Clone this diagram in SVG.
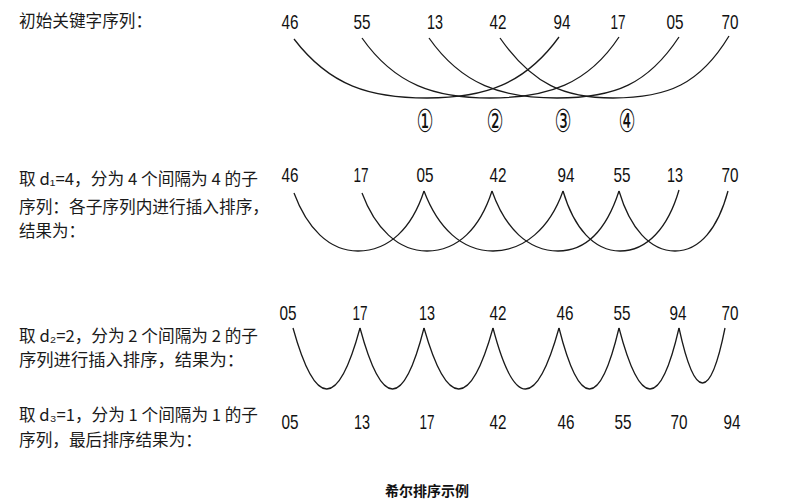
<svg xmlns="http://www.w3.org/2000/svg" width="795" height="502" viewBox="0 0 795 502">
<style>
.lbl{font-family:"Noto Sans CJK SC","Liberation Sans",sans-serif;font-size:16.5px;fill:#1a1a1a}
.num{font-family:"Liberation Sans",sans-serif;font-size:21px;fill:#111;text-anchor:middle}
.circ{font-family:"DejaVu Sans","Noto Sans CJK SC",sans-serif;font-size:32px;fill:#111;text-anchor:middle}
.cap{font-family:"Noto Sans CJK SC",sans-serif;font-size:14px;font-weight:bold;fill:#111;text-anchor:middle}
.ln{fill:none;stroke:#1a1a1a;stroke-width:1.3}
</style>
<rect width="795" height="502" fill="#ffffff"/>

<g id="labels">
  <text class="lbl" x="19" y="27" textLength="133" lengthAdjust="spacingAndGlyphs">初始关键字序列：</text>
  <text class="lbl" x="19" y="185" textLength="239" lengthAdjust="spacingAndGlyphs">取 d₁=4，分为 4 个间隔为 4 的子</text>
  <text class="lbl" x="19" y="213" textLength="250" lengthAdjust="spacingAndGlyphs">序列：各子序列内进行插入排序，</text>
  <text class="lbl" x="19" y="237" textLength="66" lengthAdjust="spacingAndGlyphs">结果为：</text>
  <text class="lbl" x="19" y="342" textLength="239" lengthAdjust="spacingAndGlyphs">取 d₂=2，分为 2 个间隔为 2 的子</text>
  <text class="lbl" x="19" y="366" textLength="225" lengthAdjust="spacingAndGlyphs">序列进行插入排序，结果为：</text>
  <text class="lbl" x="19" y="421" textLength="239" lengthAdjust="spacingAndGlyphs">取 d₃=1，分为 1 个间隔为 1 的子</text>
  <text class="lbl" x="19" y="446" textLength="183" lengthAdjust="spacingAndGlyphs">序列，最后排序结果为：</text>
  <text class="cap" x="427" y="496">希尔排序示例</text>
</g>

<g id="row1">
  <g id="r1-46"><text class="num" x="290" y="29" textLength="17" lengthAdjust="spacingAndGlyphs">46</text></g>
  <g id="r1-55"><text class="num" x="362" y="29" textLength="17" lengthAdjust="spacingAndGlyphs">55</text></g>
  <g id="r1-13"><text class="num" x="435" y="29" textLength="16" lengthAdjust="spacingAndGlyphs">13</text></g>
  <g id="r1-42"><text class="num" x="498" y="29" textLength="17" lengthAdjust="spacingAndGlyphs">42</text></g>
  <g id="r1-94"><text class="num" x="562" y="29" textLength="17" lengthAdjust="spacingAndGlyphs">94</text></g>
  <g id="r1-17"><text class="num" x="618" y="29" textLength="15" lengthAdjust="spacingAndGlyphs">17</text></g>
  <g id="r1-05"><text class="num" x="675" y="29" textLength="17" lengthAdjust="spacingAndGlyphs">05</text></g>
  <g id="r1-70"><text class="num" x="730" y="29" textLength="17" lengthAdjust="spacingAndGlyphs">70</text></g>
  <g id="c1"><text class="circ" x="425" y="132" textLength="17" lengthAdjust="spacingAndGlyphs">①</text></g>
  <g id="c2"><text class="circ" x="495" y="132" textLength="17" lengthAdjust="spacingAndGlyphs">②</text></g>
  <g id="c3"><text class="circ" x="563" y="132" textLength="17" lengthAdjust="spacingAndGlyphs">③</text></g>
  <g id="c4"><text class="circ" x="627" y="132" textLength="17" lengthAdjust="spacingAndGlyphs">④</text></g>
</g>

<g id="row2">
  <g id="r2-46"><text class="num" x="290" y="182" textLength="17" lengthAdjust="spacingAndGlyphs">46</text></g>
  <g id="r2-17"><text class="num" x="361" y="182" textLength="15" lengthAdjust="spacingAndGlyphs">17</text></g>
  <g id="r2-05"><text class="num" x="425" y="182" textLength="17" lengthAdjust="spacingAndGlyphs">05</text></g>
  <g id="r2-42"><text class="num" x="498" y="182" textLength="17" lengthAdjust="spacingAndGlyphs">42</text></g>
  <g id="r2-94"><text class="num" x="566" y="182" textLength="17" lengthAdjust="spacingAndGlyphs">94</text></g>
  <g id="r2-55"><text class="num" x="622" y="182" textLength="17" lengthAdjust="spacingAndGlyphs">55</text></g>
  <g id="r2-13"><text class="num" x="675" y="182" textLength="16" lengthAdjust="spacingAndGlyphs">13</text></g>
  <g id="r2-70"><text class="num" x="730" y="182" textLength="17" lengthAdjust="spacingAndGlyphs">70</text></g>
</g>

<g id="row3">
  <g id="r3-05"><text class="num" x="288" y="320" textLength="17" lengthAdjust="spacingAndGlyphs">05</text></g>
  <g id="r3-17"><text class="num" x="360" y="320" textLength="15" lengthAdjust="spacingAndGlyphs">17</text></g>
  <g id="r3-13"><text class="num" x="427" y="320" textLength="16" lengthAdjust="spacingAndGlyphs">13</text></g>
  <g id="r3-42"><text class="num" x="498" y="320" textLength="17" lengthAdjust="spacingAndGlyphs">42</text></g>
  <g id="r3-46"><text class="num" x="565" y="320" textLength="17" lengthAdjust="spacingAndGlyphs">46</text></g>
  <g id="r3-55"><text class="num" x="622" y="320" textLength="17" lengthAdjust="spacingAndGlyphs">55</text></g>
  <g id="r3-94"><text class="num" x="678" y="320" textLength="17" lengthAdjust="spacingAndGlyphs">94</text></g>
  <g id="r3-70"><text class="num" x="730" y="320" textLength="17" lengthAdjust="spacingAndGlyphs">70</text></g>
</g>

<g id="row4">
  <g id="r4-05"><text class="num" x="290" y="429" textLength="17" lengthAdjust="spacingAndGlyphs">05</text></g>
  <g id="r4-13"><text class="num" x="362" y="429" textLength="16" lengthAdjust="spacingAndGlyphs">13</text></g>
  <g id="r4-17"><text class="num" x="427" y="429" textLength="15" lengthAdjust="spacingAndGlyphs">17</text></g>
  <g id="r4-42"><text class="num" x="498" y="429" textLength="17" lengthAdjust="spacingAndGlyphs">42</text></g>
  <g id="r4-46"><text class="num" x="566" y="429" textLength="17" lengthAdjust="spacingAndGlyphs">46</text></g>
  <g id="r4-55"><text class="num" x="623" y="429" textLength="17" lengthAdjust="spacingAndGlyphs">55</text></g>
  <g id="r4-70"><text class="num" x="679" y="429" textLength="17" lengthAdjust="spacingAndGlyphs">70</text></g>
  <g id="r4-94"><text class="num" x="732" y="429" textLength="17" lengthAdjust="spacingAndGlyphs">94</text></g>
</g>

<g id="connectors">
  <path class="ln" d="M294,39 C330,86 370,98 427,98 C485,98 525,84 559,37"/>
  <path class="ln" d="M362,38 C395,85 435,98 490,98 C548,98 588,84 619,37"/>
  <path class="ln" d="M429,38 C462,85 502,98 557,98 C615,98 648,84 679,37"/>
  <path class="ln" d="M500,38 C533,85 565,98 613,98 C668,98 700,84 729,36"/>

  <path class="ln" d="M294,193 C307,228 329,251 358,251 C389,251 412,228 424,191"/>
  <path class="ln" d="M362,193 C375,228 398,251 427,251 C458,251 480,228 492,191"/>
  <path class="ln" d="M424,191 C438,228 462,251 493,251 C524,251 550,228 563,191"/>
  <path class="ln" d="M492,191 C505,228 528,251 558,251 C588,251 607,228 619,191"/>
  <path class="ln" d="M563,191 C574,228 594,251 620,251 C647,251 668,228 679,190"/>
  <path class="ln" d="M619,191 C630,228 650,251 675,251 C700,251 718,228 728,191"/>

  <path class="ln" d="M293,328 Q327,450 360,328"/>
  <path class="ln" d="M360,328 Q393,450 424,328"/>
  <path class="ln" d="M424,328 Q459,450 493,328"/>
  <path class="ln" d="M493,328 Q525,450 559,328"/>
  <path class="ln" d="M559,328 Q590,450 619,328"/>
  <path class="ln" d="M619,328 Q651,450 679,328"/>
  <path class="ln" d="M679,328 Q703,438 725,328"/>
</g>
</svg>
